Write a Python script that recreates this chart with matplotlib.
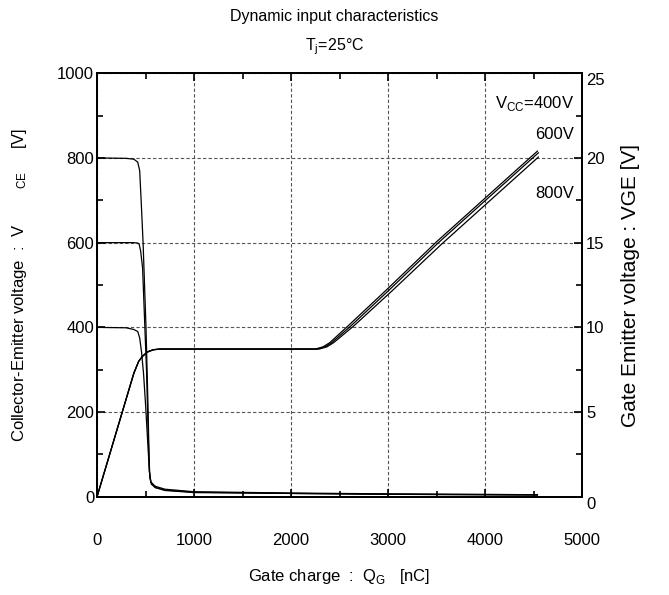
import matplotlib.pyplot as plt
import numpy as np

plt.rcParams['font.family'] = ['Liberation Sans', 'DejaVu Sans']
plt.rcParams['mathtext.fontset'] = 'custom'
plt.rcParams['mathtext.rm'] = 'Liberation Sans'

# VCE curves (left axis)
q_vce_800 = [0, 300, 380, 420, 440, 455, 475, 505, 525, 540, 555, 600, 700, 1000, 2000, 3000, 4540]
vce_800 = [800, 799, 797, 790, 770, 700, 600, 400, 220, 60, 35, 25, 18, 12, 9, 7, 5]
q_vce_600 = [0, 380, 420, 435, 450, 470, 490, 510, 530, 545, 560, 600, 700, 1000, 2000, 3000, 4540]
vce_600 = [600, 600, 599, 596, 580, 540, 420, 300, 130, 45, 30, 22, 16, 11, 8, 6, 5]
q_vce_400 = [0, 300, 380, 420, 440, 460, 480, 500, 520, 540, 555, 600, 700, 1000, 2000, 3000, 4540]
vce_400 = [400, 399, 395, 390, 375, 340, 290, 220, 140, 60, 35, 22, 15, 10, 8, 6, 4]

# VGE curves (right axis)
q_vge_400 = [0, 380, 430, 470, 520, 580, 650, 2250, 2330, 2400, 2600, 3000, 3500, 4540]
vge_400 = [0, 7.3, 8.0, 8.3, 8.55, 8.68, 8.72, 8.72, 8.85, 9.1, 10.15, 12.3, 15.05, 20.4]
q_vge_600 = [0, 380, 430, 470, 520, 580, 650, 2270, 2350, 2420, 2620, 3020, 3520, 4550]
vge_600 = [0, 7.3, 8.0, 8.3, 8.55, 8.68, 8.72, 8.72, 8.85, 9.1, 10.1, 12.25, 15.0, 20.3]
q_vge_800 = [0, 380, 430, 470, 520, 580, 650, 2290, 2370, 2440, 2650, 3050, 3550, 4550]
vge_800 = [0, 7.3, 8.0, 8.3, 8.55, 8.68, 8.72, 8.72, 8.85, 9.1, 10.1, 12.2, 14.9, 20.05]

fig = plt.figure(figsize=(6.69, 5.95), dpi=100)
ax = fig.add_axes([0.145, 0.165, 0.725, 0.712])
ax2 = ax.twinx()

lc = 'black'
ax.plot(q_vce_800, vce_800, color=lc, lw=0.9)
ax.plot(q_vce_600, vce_600, color=lc, lw=0.9)
ax.plot(q_vce_400, vce_400, color=lc, lw=0.9)
ax2.plot(q_vge_400, vge_400, color=lc, lw=0.9)
ax2.plot(q_vge_600, vge_600, color=lc, lw=0.9)
ax2.plot(q_vge_800, vge_800, color=lc, lw=0.9)

ax.set_xlim(0, 5000)
ax.set_ylim(0, 1000)
ax2.set_ylim(0, 25)
ax.set_xticks(np.arange(0, 5001, 1000))
ax.set_xticks(np.arange(0, 5001, 500), minor=True)
ax.set_yticks(np.arange(0, 1001, 200))
ax.set_yticks(np.arange(0, 1001, 100), minor=True)
ax2.set_yticks(np.arange(0, 26, 5))
ax2.set_yticks(np.arange(0, 26, 2.5), minor=True)

ax.grid(True, which='major', color='#555555', ls=(0, (3, 2)), lw=0.8)
ax.tick_params(which='both', direction='in', top=True, labelsize=12, width=1.2)
ax.tick_params(which='major', length=6)
ax.tick_params(which='minor', length=4)
ax.tick_params(axis='x', pad=26)
ax.tick_params(axis='y', pad=2)
ax2.tick_params(which='both', direction='in', labelsize=12, width=1.2, pad=3)
ax2.tick_params(which='major', length=6)
ax2.tick_params(which='minor', length=4)
for lab in ax2.get_yticklabels():
    if lab.get_text() in ('0', '25'):
        lab.set_verticalalignment('top')

for a in (ax, ax2):
    for s in a.spines.values():
        s.set_linewidth(1.4)

ax.set_xlabel('Gate charge  :  Q$_{\\mathrm{G}}$   [nC]', fontsize=12, labelpad=14)
ax.set_ylabel('Collector-Emitter voltage  :  V        $\\mathregular{{}_{CE}}$     [V]',
              fontsize=12, labelpad=20)
ax2.set_ylabel('Gate Emitter voltage : VGE [V]', fontsize=15, labelpad=12)

fig.text(0.5, 0.972, 'Dynamic input characteristics', ha='center', va='center', fontsize=11.5)
fig.text(0.5, 0.922, 'T$_{\\mathrm{j}}$=25°C', ha='center', va='center', fontsize=11.5)

ax2.text(4920, 23.2, 'V$_{\\mathrm{CC}}$=400V', ha='right', va='center', fontsize=12)
ax2.text(4920, 21.4, '600V', ha='right', va='center', fontsize=12)
ax2.text(4920, 17.9, '800V', ha='right', va='center', fontsize=12)

fig.savefig('out.png', dpi=100)
